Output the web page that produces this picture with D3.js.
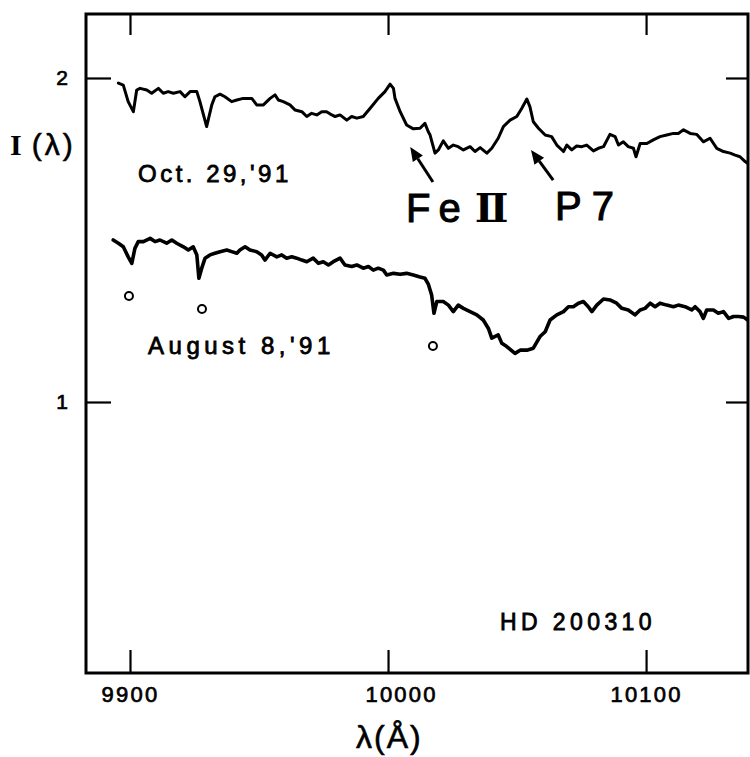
<!DOCTYPE html>
<html>
<head>
<meta charset="utf-8">
<script src="https://cdn.jsdelivr.net/npm/d3@7/dist/d3.min.js"></script>
<style>
  html, body { margin: 0; padding: 0; background: #fff; }
  svg { display: block; }
  text { fill: #000; font-family: "Liberation Sans", Arial, sans-serif; }
</style>
</head>
<body>
<svg id="chart" width="750" height="757"></svg>
<script>
// ---------- data ----------
const xTicks = [9900, 10000, 10100];
const yTicks = [1, 2];

// Oct. 29, '91 spectrum
const octLambda = [9895.5,9897.4,9899.3,9901.3,9902.6,9903.9,9906.5,9908.4,9911.0,9912.9,9914.8,9916.8,9919.4,9921.3,9923.3,9925.9,9927.1,9929.7,9931.7,9932.9,9934.9,9936.8,9939.4,9941.4,9943.9,9947.2,9949.1,9951.7,9954.3,9956.2,9957.5,9959.4,9962.0,9964.0,9966.6,9968.5,9970.4,9972.4,9974.3,9976.2,9978.2,9979.5,9981.4,9984.0,9985.9,9987.9,9990.4,9993.0,9996.2,9998.8,10000.8,10002.1,10002.7,10004.7,10007.2,10009.8,10012.4,10014.3,10015.6,10016.3,10018.2,10019.5,10021.4,10023.4,10025.3,10027.2,10029.2,10031.8,10033.7,10035.7,10038.3,10040.2,10042.7,10044.7,10047.3,10049.9,10051.8,10053.8,10055.0,10056.3,10058.3,10060.9,10063.4,10065.4,10068.0,10069.3,10071.2,10073.1,10075.1,10077.0,10079.6,10081.5,10083.5,10086.0,10088.0,10089.3,10091.2,10093.1,10095.1,10096.1,10097.7,10100.3,10102.8,10105.4,10108.0,10110.6,10112.5,10114.5,10117.1,10119.6,10122.2,10124.8,10127.4,10130.0,10132.6,10134.5,10136.4,10138.4,10140.3];
const octI = [1.984,1.978,1.927,1.896,1.963,1.968,1.963,1.953,1.968,1.953,1.958,1.953,1.958,1.942,1.958,1.958,1.927,1.850,1.917,1.942,1.950,1.942,1.927,1.932,1.937,1.937,1.917,1.917,1.937,1.948,1.932,1.927,1.917,1.901,1.896,1.881,1.891,1.886,1.896,1.896,1.886,1.881,1.886,1.870,1.881,1.876,1.881,1.906,1.937,1.958,1.981,1.968,1.937,1.896,1.855,1.843,1.845,1.860,1.834,1.824,1.768,1.778,1.806,1.783,1.793,1.788,1.778,1.788,1.773,1.785,1.768,1.783,1.814,1.850,1.870,1.881,1.906,1.935,1.911,1.865,1.845,1.824,1.819,1.793,1.773,1.793,1.778,1.790,1.788,1.793,1.775,1.783,1.788,1.826,1.819,1.793,1.803,1.788,1.783,1.757,1.798,1.798,1.809,1.819,1.824,1.829,1.829,1.840,1.829,1.826,1.803,1.814,1.783,1.773,1.768,1.762,1.757,1.742,1.731];

// August 8, '91 spectrum
const augLambda = [9893.5,9895.5,9897.4,9899.3,9900.7,9901.9,9903.2,9905.2,9907.8,9909.7,9911.6,9914.2,9916.2,9918.1,9920.7,9922.6,9924.5,9925.9,9926.7,9927.8,9929.1,9931.0,9932.9,9934.9,9937.5,9939.4,9941.4,9942.6,9944.6,9946.5,9949.1,9951.0,9952.3,9954.3,9956.9,9958.8,9960.7,9962.7,9964.6,9966.6,9968.5,9971.0,9973.0,9974.9,9976.9,9978.8,9981.4,9983.3,9985.9,9987.9,9990.4,9992.4,9994.3,9996.2,9998.2,9999.5,10002.1,10004.7,10007.2,10009.8,10012.4,10014.3,10015.6,10016.9,10017.8,10018.9,10021.4,10023.4,10025.3,10027.2,10029.2,10031.8,10034.4,10036.9,10038.9,10040.2,10042.7,10044.1,10046.0,10049.2,10051.2,10053.8,10056.3,10058.9,10060.9,10062.8,10065.4,10068.0,10069.9,10071.8,10073.8,10075.7,10077.6,10079.0,10080.9,10083.5,10086.0,10088.6,10090.6,10093.1,10095.7,10097.7,10099.6,10101.6,10103.5,10105.4,10108.0,10110.6,10112.5,10115.1,10117.7,10119.0,10120.9,10122.2,10123.5,10126.1,10128.0,10130.0,10132.0,10133.9,10135.8,10137.8,10140.3];
const augI = [1.500,1.490,1.479,1.448,1.428,1.474,1.495,1.495,1.505,1.495,1.500,1.490,1.500,1.490,1.479,1.469,1.479,1.454,1.382,1.413,1.444,1.454,1.459,1.464,1.469,1.464,1.459,1.469,1.479,1.469,1.464,1.454,1.438,1.459,1.448,1.454,1.444,1.448,1.444,1.438,1.433,1.444,1.428,1.433,1.423,1.433,1.444,1.423,1.418,1.423,1.413,1.418,1.407,1.413,1.407,1.392,1.397,1.394,1.397,1.392,1.386,1.382,1.364,1.330,1.274,1.310,1.310,1.299,1.279,1.299,1.289,1.279,1.269,1.253,1.227,1.197,1.207,1.181,1.171,1.150,1.160,1.160,1.166,1.202,1.217,1.253,1.269,1.279,1.294,1.294,1.305,1.310,1.294,1.279,1.299,1.318,1.315,1.305,1.289,1.284,1.269,1.284,1.289,1.305,1.294,1.305,1.299,1.294,1.299,1.294,1.284,1.294,1.279,1.258,1.284,1.284,1.274,1.279,1.258,1.264,1.264,1.262,1.248];

// open-circle markers below the August spectrum
const markLambda = [9899.6, 9927.9, 10017.4];
const markI = [1.327, 1.287, 1.173];

// ---------- layout ----------
const svg = d3.select("#chart");
const L = 86, R = 748, T = 14, B = 673;

const x = d3.scaleLinear().domain([9882.95, 10139.5]).range([L, R]);
const y = d3.scaleLinear().domain([0.1636, 2.1975]).range([B, T]);

svg.append("defs").append("clipPath").attr("id", "clip")
  .append("rect").attr("x", L).attr("y", T).attr("width", R - L).attr("height", B - T);

// axes with inward ticks
function styleAxis(g) {
  g.select(".domain").remove();
  g.selectAll(".tick line").attr("stroke", "#000").attr("stroke-width", 2.2);
  g.selectAll(".tick text").attr("fill", "#000");
}

svg.append("g").attr("transform", `translate(0,${B})`)
  .call(d3.axisBottom(x).tickValues(xTicks).tickSize(-23).tickPadding(13).tickFormat(d3.format("d")))
  .call(styleAxis)
  .call(g => g.selectAll(".tick text")
    .attr("font-size", 22).attr("letter-spacing", "2.2px")
    .attr("stroke", "#000").attr("stroke-width", 0.7)
    .attr("font-family", "Liberation Sans, Arial, sans-serif")
    .attr("dx", d => d === 10000 ? 13 : 0));

svg.append("g").attr("transform", `translate(0,${T})`)
  .call(d3.axisTop(x).tickValues(xTicks).tickSize(-21).tickFormat(""))
  .call(styleAxis);

svg.append("g").attr("transform", `translate(${L},0)`)
  .call(d3.axisLeft(y).tickValues(yTicks).tickSize(-25).tickPadding(18).tickFormat(d3.format("d")))
  .call(styleAxis)
  .call(g => g.selectAll(".tick text")
    .attr("font-size", 21).attr("stroke", "#000").attr("stroke-width", 0.7)
    .attr("font-family", "Liberation Sans, Arial, sans-serif"));

svg.append("g").attr("transform", `translate(${R},0)`)
  .call(d3.axisRight(y).tickValues(yTicks).tickSize(-22).tickFormat(""))
  .call(styleAxis);

// frame
svg.append("path")
  .attr("d", `M${L},${T}H${R}V${B}H${L}Z`)
  .attr("fill", "none").attr("stroke", "#000").attr("stroke-width", 3);

// spectra
const line = d3.line().x(d => x(d[0])).y(d => y(d[1])).curve(d3.curveLinear);
const plot = svg.append("g").attr("clip-path", "url(#clip)");

plot.append("path")
  .datum(octLambda.map((l, i) => [l, octI[i]]))
  .attr("d", line).attr("fill", "none").attr("stroke", "#000")
  .attr("stroke-width", 3).attr("stroke-linejoin", "round").attr("stroke-linecap", "round");

plot.append("path")
  .datum(augLambda.map((l, i) => [l, augI[i]]))
  .attr("d", line).attr("fill", "none").attr("stroke", "#000")
  .attr("stroke-width", 3.6).attr("stroke-linejoin", "round").attr("stroke-linecap", "round");

plot.selectAll("circle.mk")
  .data(markLambda.map((l, i) => [l, markI[i]]))
  .join("circle").attr("class", "mk")
  .attr("cx", d => x(d[0])).attr("cy", d => y(d[1])).attr("r", 4)
  .attr("fill", "#fff").attr("stroke", "#000").attr("stroke-width", 2);

// arrows (data coordinates: tail -> head)
const arrows = [
  [[10017.4, 1.679], [10008.6, 1.787]],
  [[10064.0, 1.685], [10055.4, 1.778]]
];
arrows.forEach(([t, h]) => {
  const x1 = x(t[0]), y1 = y(t[1]), x2 = x(h[0]), y2 = y(h[1]);
  const a = Math.atan2(y2 - y1, x2 - x1);
  const len = 14, w = 6;
  const bx = x2 - len * Math.cos(a), by = y2 - len * Math.sin(a);
  svg.append("line").attr("x1", x1).attr("y1", y1).attr("x2", bx).attr("y2", by)
    .attr("stroke", "#000").attr("stroke-width", 3);
  svg.append("path")
    .attr("d", `M${x2},${y2}L${bx + w * Math.sin(a)},${by - w * Math.cos(a)}L${bx - w * Math.sin(a)},${by + w * Math.cos(a)}Z`)
    .attr("fill", "#000");
});

// labels
svg.append("text").attr("x", x(9903.1)).attr("y", y(1.679))
  .attr("font-size", 24).attr("stroke", "#000").attr("stroke-width", 0.8)
  .attr("letter-spacing", "3.5px").text("Oct. 29,'91");

svg.append("text").attr("x", x(9907.0)).attr("y", y(1.148))
  .attr("font-size", 24).attr("stroke", "#000").attr("stroke-width", 0.8)
  .attr("letter-spacing", "4.5px").text("August 8,'91");

const fe = svg.append("text").attr("x", x(10007.0)).attr("y", y(1.556))
  .attr("font-size", 40).attr("letter-spacing", "8px")
  .attr("stroke", "#000").attr("stroke-width", 1);
fe.append("tspan").text("Fe");
fe.append("tspan").attr("dx", 6).attr("font-family", "DejaVu Serif, serif").attr("font-weight", "bold").attr("letter-spacing", "0px").attr("stroke-width", 0).text("Ⅱ");

svg.append("text").attr("x", x(10064.7)).attr("y", y(1.562))
  .attr("font-size", 40).attr("letter-spacing", "10px")
  .attr("stroke", "#000").attr("stroke-width", 1).text("P7");

svg.append("text").attr("x", x(10043.4)).attr("y", y(0.296))
  .attr("font-size", 23).attr("stroke", "#000").attr("stroke-width", 0.8)
  .attr("letter-spacing", "4.4px").text("HD 200310");

// axis titles
const yl = svg.append("text").attr("x", 10).attr("y", 155).attr("font-size", 30);
yl.append("tspan").attr("font-family", "Liberation Serif, serif").attr("font-weight", "bold").text("I");
yl.append("tspan").attr("dx", 10).attr("letter-spacing", "3px").attr("stroke", "#000").attr("stroke-width", 0.6).text("(λ)");

svg.append("text").attr("x", 356).attr("y", 748).attr("font-size", 32)
  .attr("letter-spacing", "2px").attr("stroke", "#000").attr("stroke-width", 0.6).text("λ(Å)");
</script>
</body>
</html>
